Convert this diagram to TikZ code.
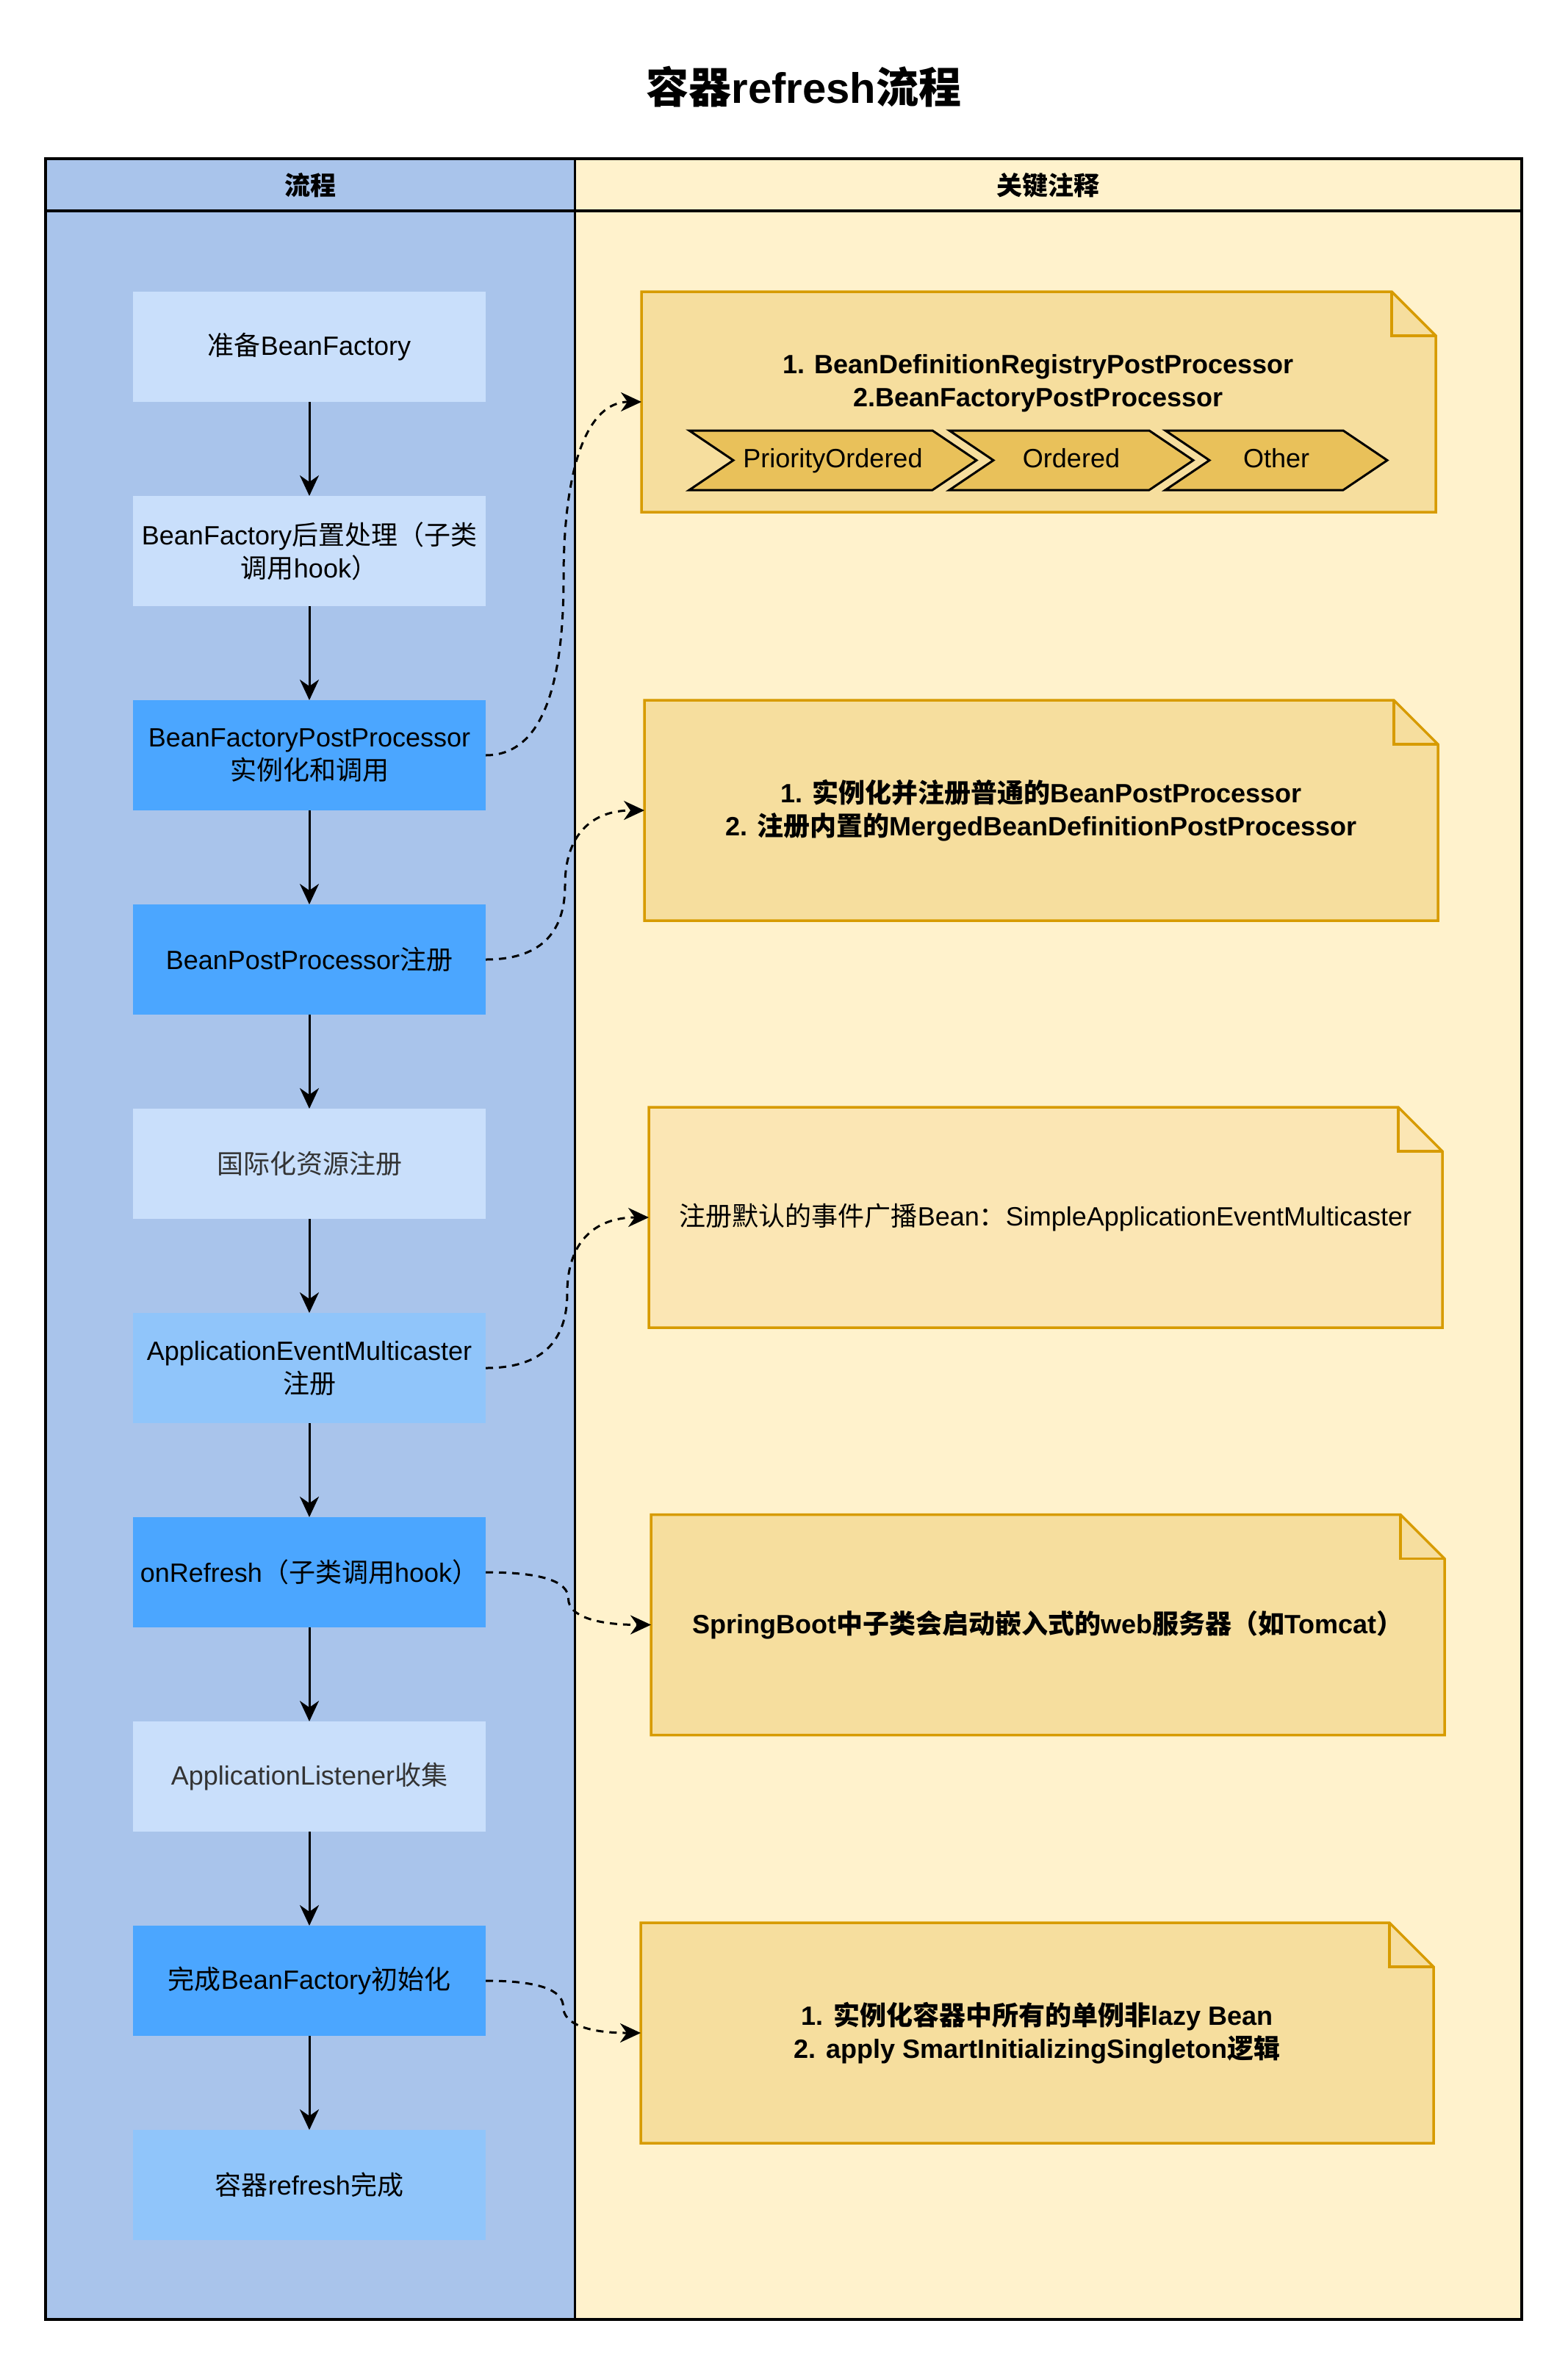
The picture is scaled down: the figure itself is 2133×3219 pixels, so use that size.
\documentclass[tikz,border=0pt]{standalone}
\usepackage{fontspec}
\setmainfont{Liberation Sans}
\newfontfamily\cjkfam{Noto Sans CJK SC}
\usetikzlibrary{arrows.meta,calc}
\newXeTeXintercharclass\cjkcls
\count255="4E00
\loop
  \XeTeXcharclass\count255=\cjkcls
  \ifnum\count255<"9FFF \advance\count255 by 1 \repeat
\XeTeXcharclass"FF08=\cjkcls
\XeTeXcharclass"FF09=\cjkcls
\XeTeXcharclass"FF1A=\cjkcls
\XeTeXinterchartoks 0 \cjkcls = {\cjkfam}
\XeTeXinterchartoks 4095 \cjkcls = {\cjkfam}
\XeTeXinterchartoks \cjkcls 0 = {\rmfamily}
\XeTeXinterchartoks \cjkcls 4095 = {\rmfamily}

\definecolor{lanebl}{HTML}{A9C4EB}
\definecolor{laneyl}{HTML}{FFF2CC}
\definecolor{boxlight}{HTML}{C9DFFB}
\definecolor{boxmid}{HTML}{90C5FA}
\definecolor{boxstrong}{HTML}{4BA6FF}
\definecolor{notefill}{HTML}{F6DE9E}
\definecolor{notefilllt}{HTML}{FBE6B4}
\definecolor{notestroke}{HTML}{D79B00}
\definecolor{chevfill}{HTML}{E9C15A}
\definecolor{graytext}{HTML}{333333}

\pgfdeclarelayer{lanes}
\pgfdeclarelayer{shapes}
\pgfsetlayers{lanes,shapes,main}

\tikzset{
  txt/.style={font=\fontsize{36}{45}\selectfont, align=center, inner sep=0pt, outer sep=0pt},
  boldtxt/.style={font=\bfseries\fontsize{36}{45}\selectfont, align=center, inner sep=0pt, outer sep=0pt},
  stepbox/.style={txt, minimum width=480pt, minimum height=150pt, draw=none},
  lightbox/.style={stepbox, fill=boxlight},
  midbox/.style={stepbox, fill=boxmid},
  strongbox/.style={stepbox, fill=boxstrong},
  notebox/.style={minimum width=1080pt, minimum height=300pt, inner sep=0pt, outer sep=0pt, draw=none},
  chevbox/.style={txt, minimum height=81pt, text height=26pt, text depth=7pt, draw=none},
  flow/.style={line width=3pt, -{Stealth[length=28pt,width=26pt,inset=9pt]}},
  conn/.style={line width=3pt, dash pattern=on 10pt off 8pt, -{Stealth[length=28pt,width=26pt,inset=9pt]}},
  curvy/.style={to path={let \p1=(\tikztostart), \p2=(\tikztotarget), \p3=($(\tikztostart)!0.5!(\tikztotarget)$) in
    .. controls ($(\p1)!0.6667!(\x3,\y1)$) and ($(\p3)!0.6667!(\x3,\y1)$) .. (\p3)
    .. controls ($(\p3)!0.6667!(\x3,\y2)$) and ($(\p2)!0.6667!(\x3,\y2)$) .. (\p2) \tikztonodes}},
  notedraw/.style={draw=notestroke, line width=3.5pt, line join=miter}
}

\newcommand\notefold[2]{%
  \begin{pgfonlayer}{shapes}
    \draw[notedraw, fill=#2] (#1.south west) -- (#1.north west) -- ([xshift=-60pt]#1.north east)
      -- ([yshift=-60pt]#1.north east) -- (#1.south east) -- cycle;
    \draw[notedraw] ([xshift=-60pt]#1.north east) -- ([xshift=-60pt,yshift=-60pt]#1.north east)
      -- ([yshift=-60pt]#1.north east);
  \end{pgfonlayer}}
\newcommand\chevshape[1]{%
  \begin{pgfonlayer}{shapes}
    \draw[line width=3pt, fill=chevfill, line join=miter] (#1.north west) -- ([xshift=-60pt]#1.north east)
      -- (#1.east) -- ([xshift=-60pt]#1.south east) -- (#1.south west) -- ([xshift=60pt]#1.west) -- cycle;
  \end{pgfonlayer}}

\begin{document}
\XeTeXinterchartokenstate=1
\begin{tikzpicture}[x=1pt,y=-1pt]
\useasboundingbox (0,0) rectangle (2133,3219);
\begin{pgfonlayer}{lanes}
  \fill[white] (0,0) rectangle (2133,3219);
  \fill[lanebl] (62,216) rectangle (782,3157);
  \fill[laneyl] (782,216) rectangle (2071,3157);
  \draw[line width=3pt] (782,216) -- (782,3157);
  \draw[line width=3.5pt] (62,287) -- (2071,287);
  \draw[line width=3.5pt] (62,216) rectangle (2071,3157);
\end{pgfonlayer}

\node (title) [font=\bfseries\fontsize{58}{70}\selectfont, inner sep=0pt] at (1094,118) {容器refresh流程};
\node (h1) [font=\bfseries\fontsize{35}{42}\selectfont, inner sep=0pt] at (422,252) {流程};
\node (h2) [font=\bfseries\fontsize{35}{42}\selectfont, inner sep=0pt] at (1426,252) {关键注释};

% flow boxes
\node (b1) [lightbox] at (421,472) {准备BeanFactory};
\node (b2) [lightbox] at (421,750) {BeanFactory后置处理（子类\\调用hook）};
\node (b3) [strongbox] at (421,1028) {BeanFactoryPostProcessor\\实例化和调用};
\node (b4) [strongbox] at (421,1306) {BeanPostProcessor注册};
\node (b5) [lightbox, text=graytext] at (421,1584) {国际化资源注册};
\node (b6) [midbox] at (421,1862) {ApplicationEventMulticaster\\注册};
\node (b7) [strongbox] at (421,2140) {onRefresh（子类调用hook）};
\node (b8) [lightbox, text=graytext] at (421,2418) {ApplicationListener收集};
\node (b9) [strongbox] at (421,2696) {完成BeanFactory初始化};
\node (b10) [midbox] at (421,2974) {容器refresh完成};

\draw[flow] (b1.south) -- (b2.north);
\draw[flow] (b2.south) -- (b3.north);
\draw[flow] (b3.south) -- (b4.north);
\draw[flow] (b4.south) -- (b5.north);
\draw[flow] (b5.south) -- (b6.north);
\draw[flow] (b6.south) -- (b7.north);
\draw[flow] (b7.south) -- (b8.north);
\draw[flow] (b8.south) -- (b9.north);
\draw[flow] (b9.south) -- (b10.north);

% notes
\node (n1) [notebox, minimum width=1081pt] at (1413.5,547) {};
\notefold{n1}{notefill}
\node (t1) [boldtxt] at (1413,522) {1. BeanDefinitionRegistryPostProcessor\\2.BeanFactoryPostProcessor};
\node (c1) [chevbox, minimum width=391pt] at (1133.5,626.5) {PriorityOrdered};
\chevshape{c1}
\node (c2) [chevbox, minimum width=332pt] at (1458,626.5) {Ordered};
\chevshape{c2}
\node (c3) [chevbox, minimum width=302pt] at (1737,626.5) {Other};
\chevshape{c3}

\node (n2) [notebox, boldtxt] at (1417,1103) {1. 实例化并注册普通的BeanPostProcessor\\2. 注册内置的MergedBeanDefinitionPostProcessor};
\notefold{n2}{notefill}

\node (n3) [notebox, txt] at (1423,1657) {注册默认的事件广播Bean：SimpleApplicationEventMulticaster};
\notefold{n3}{notefilllt}

\node (n4) [notebox, boldtxt] at (1426,2211.5) {SpringBoot中子类会启动嵌入式的web服务器（如Tomcat）};
\notefold{n4}{notefill}

\node (n5) [notebox, minimum width=1079pt, boldtxt] at (1411.5,2767) {1. 实例化容器中所有的单例非lazy Bean\\2. apply SmartInitializingSingleton逻辑};
\notefold{n5}{notefill}

% dashed connectors
\draw[conn] (b3.east) to[curvy] (n1.west);
\draw[conn] (b4.east) to[curvy] (n2.west);
\draw[conn] (b6.east) to[curvy] (n3.west);
\draw[conn] (b7.east) to[curvy] (n4.west);
\draw[conn] (b9.east) to[curvy] (n5.west);
\end{tikzpicture}
\end{document}
